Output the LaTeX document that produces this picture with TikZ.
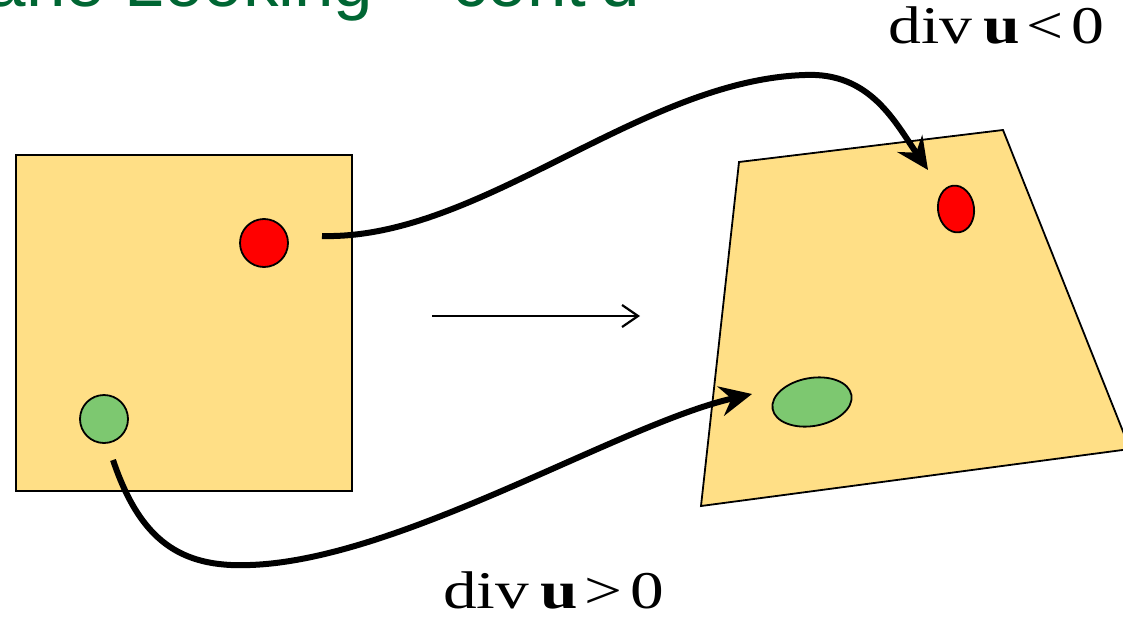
\documentclass[tikz,border=0pt]{standalone}
\usepackage{fontspec}
\setmainfont{Liberation Serif}
\newfontfamily\labelfont{Liberation Serif}
\newfontfamily\titlefont{Liberation Sans}
\usetikzlibrary{arrows.meta,shapes.geometric}
\definecolor{sheet}{RGB}{255,223,134}
\definecolor{dotred}{RGB}{255,0,0}
\definecolor{dotgreen}{RGB}{125,200,112}
\definecolor{titlegreen}{RGB}{0,102,51}
\tikzset{
  sheetshape/.style={draw=black,line width=1.8pt,fill=sheet},
  dotshape/.style={draw=black,line width=1.8pt,inner sep=0pt},
  bigarrow/.style={line width=6pt,-{Stealth[length=32pt,width=30pt,inset=11pt]}},
  thinarrow/.style={line width=2.2pt,-{Straight Barb[length=16pt,width=22pt,line width=2.2pt]}},
  divlabel/.style={inner sep=0pt,font=\labelfont\fontsize{53}{60}\selectfont},
  titletext/.style={inner sep=0pt,text=titlegreen,font=\titlefont\fontsize{71}{80}\selectfont}
}
\begin{document}
\begin{tikzpicture}[x=1pt,y=-1pt]
\useasboundingbox (0,0) rectangle (1123,618);
\clip (0,0) rectangle (1123,618);
% title fragment
\node[titletext,anchor=base east] (title) at (640,7) {ane Looking – cont'd};
% left square
\node[sheetshape,minimum width=336pt,minimum height=336pt,inner sep=0pt] (sq) at (184,323) {};
\node[dotshape,circle,fill=dotred,minimum size=48pt] (r1) at (264,243) {};
\node[dotshape,circle,fill=dotgreen,minimum size=48pt] (g1) at (104,419) {};
% deformed sheet
\coordinate (tl) at (739,162);
\coordinate (tr) at (1003,130);
\coordinate (br) at (1130,449);
\coordinate (bl) at (701,506);
\draw[sheetshape] (tl) -- (tr) -- (br) -- (bl) -- cycle;
\node[dotshape,ellipse,fill=dotred,minimum width=36pt,minimum height=47pt,rotate=8] (r2) at (956,209) {};
\node[dotshape,ellipse,fill=dotgreen,minimum width=80pt,minimum height=48pt,rotate=10] (g2) at (812,402) {};
% middle arrow
\coordinate (ma) at (432,316);
\coordinate (mb) at (640,316);
\draw[thinarrow] (ma) -- (mb);
% curved arrows
\coordinate (s1) at (322,236);
\coordinate (p1) at (805,75);
\coordinate (e1) at (928,170);
\draw[bigarrow] (s1) .. controls (480,240) and (640,80) .. (p1) .. controls (870,72) and (895,122) .. (e1);
\coordinate (s2) at (113,460);
\coordinate (p2) at (250,565);
\coordinate (e2) at (752,394);
\draw[bigarrow] (s2) .. controls (140,540) and (180,568) .. (p2) .. controls (400,560) and (620,424) .. (e2);
% labels
\node[divlabel,anchor=base west] (lab1) at (888,44) {\scalebox{1.24}[1]{div\,\textbf{u}\hspace{0.1em}<\hspace{0.12em}0}};
\node[divlabel,anchor=base west] (lab2) at (443,608) {\scalebox{1.27}[1]{div\,\textbf{u}\hspace{0.1em}>\hspace{0.12em}0}};
\end{tikzpicture}
\end{document}
